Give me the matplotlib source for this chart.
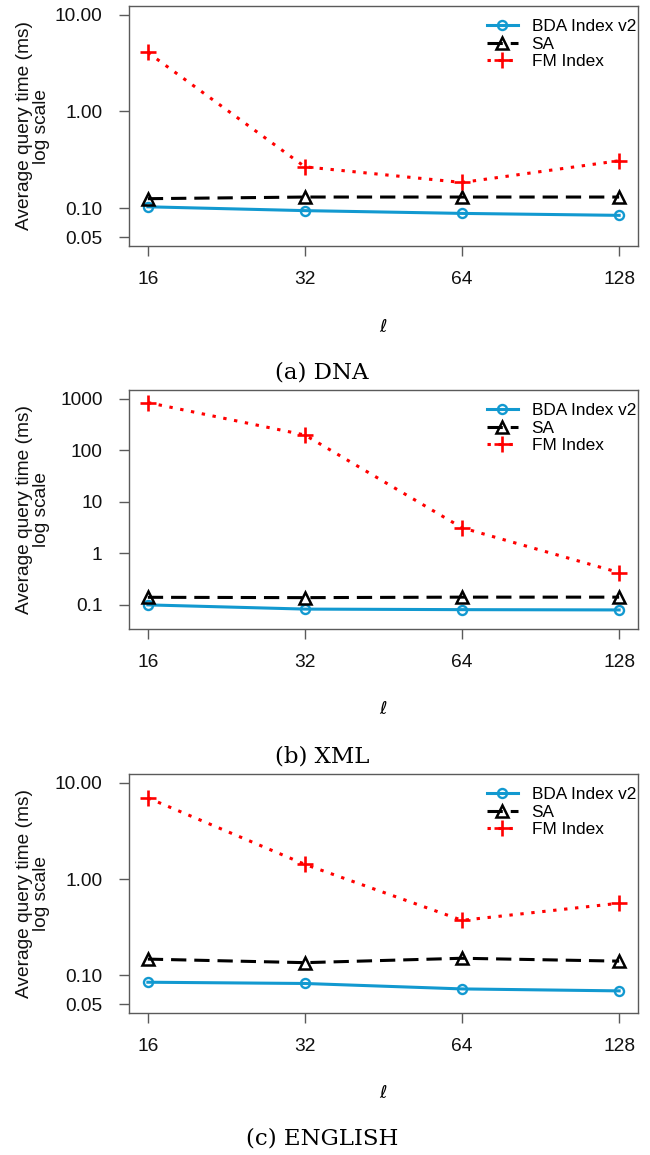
import numpy as np
import matplotlib
matplotlib.use('Agg')
from matplotlib import pyplot as plt
from matplotlib.ticker import FixedLocator, FixedFormatter, NullLocator

plt.rcParams['font.family'] = ['Liberation Sans', 'DejaVu Sans']

# pattern length l
ell = [16, 32, 64, 128]

# average query time (ms), one list per index and dataset
dna_bda = [0.103, 0.094, 0.088, 0.084]
dna_sa = [0.125, 0.130, 0.130, 0.130]
dna_fm = [4.08, 0.267, 0.184, 0.309]

xml_bda = [0.099, 0.082, 0.080, 0.079]
xml_sa = [0.139, 0.137, 0.140, 0.140]
xml_fm = [848.0, 198.0, 3.12, 0.42]

eng_bda = [0.0845, 0.082, 0.072, 0.0687]
eng_sa = [0.147, 0.135, 0.150, 0.140]
eng_fm = [6.98, 1.42, 0.372, 0.56]

names = ['BDA Index v2', 'SA', 'FM Index']
captions = ['(a) DNA', '(b) XML', '(c) ENGLISH']

ylims = [(0.05, 10), (0.05, 1000), (0.05, 10)]
yticks = [[0.05, 0.1, 1, 10], [0.1, 1, 10, 100, 1000], [0.05, 0.1, 1, 10]]
ytick_labels = [['0.05', '0.10', '1.00', '10.00'],
                ['0.1', '1', '10', '100', '1000'],
                ['0.05', '0.10', '1.00', '10.00']]

data = [(dna_bda, dna_sa, dna_fm), (xml_bda, xml_sa, xml_fm), (eng_bda, eng_sa, eng_fm)]

W, H = 650, 1155
fig = plt.figure(figsize=(W / 100.0, H / 100.0), dpi=100)

# pixel boxes of each plot frame: (left, top, right, bottom)
boxes = [(129, 6, 638, 246), (129, 390, 638, 629), (129, 774, 638, 1013)]
cap_y = [373, 756, 1138]

blue = '#1299d0'
frame = '#5a5a5a'

for k in range(3):
    l, t, r, b = boxes[k]
    ax = fig.add_axes([l / W, 1 - b / H, (r - l) / W, (b - t) / H])
    bda, sa, fm = data[k]

    ax.plot(ell, bda, color=blue, lw=2.2, marker='o', ms=6.5, mfc='none',
            mew=1.7, label=names[0])
    ax.plot(ell, sa, color='black', lw=2.2, dashes=(5, 2.6), marker='^', ms=8,
            mfc='none', mew=1.8, label=names[1])
    ax.plot(ell, fm, color='red', lw=2.2, dashes=(1.1, 2.5), marker='+', ms=11,
            mew=1.9, label=names[2])

    ax.set_xscale('log', base=2)
    ax.set_yscale('log')
    # R style 4% padding around the ranges
    lo, hi = np.log2(ell[0]), np.log2(ell[-1])
    p = 0.04 * (hi - lo)
    ax.set_xlim(2 ** (lo - p), 2 ** (hi + p))
    lo, hi = np.log10(ylims[k][0]), np.log10(ylims[k][1])
    p = 0.04 * (hi - lo)
    ax.set_ylim(10 ** (lo - p), 10 ** (hi + p))

    ax.xaxis.set_major_locator(FixedLocator(ell))
    ax.xaxis.set_major_formatter(FixedFormatter([str(v) for v in ell]))
    ax.xaxis.set_minor_locator(NullLocator())
    ax.yaxis.set_major_locator(FixedLocator(yticks[k]))
    ax.yaxis.set_major_formatter(FixedFormatter(ytick_labels[k]))
    ax.yaxis.set_minor_locator(NullLocator())

    ax.tick_params(axis='both', direction='out', length=7, width=1, color=frame,
                   labelsize=13.8, labelcolor='#111111')
    ax.tick_params(axis='x', pad=11)
    ax.tick_params(axis='y', pad=12)
    for s in ax.spines.values():
        s.set_color(frame)
        s.set_linewidth(1.0)

    ax.legend(loc='upper left', bbox_to_anchor=(0.703, 0.944), frameon=False,
              fontsize=12.4, handlelength=1.8, handletextpad=0.8,
              labelspacing=0.14, borderpad=0, borderaxespad=0, numpoints=1)

    yc = (t + b) / 2.0
    fig.text(33 / W, 1 - yc / H, 'Average query time (ms)\nlog scale',
             rotation=90, ha='center', va='center', fontsize=13.8,
             linespacing=1.05, color='#111111')
    fig.text((l + r) / 2.0 / W, 1 - (b + 81) / H, r'$\ell$', ha='center',
             va='center', fontsize=13)
    fig.text(322 / W, 1 - cap_y[k] / H, captions[k], ha='center', va='center',
             fontsize=16.5, family='DejaVu Serif')

fig.savefig('out.png', dpi=100)
